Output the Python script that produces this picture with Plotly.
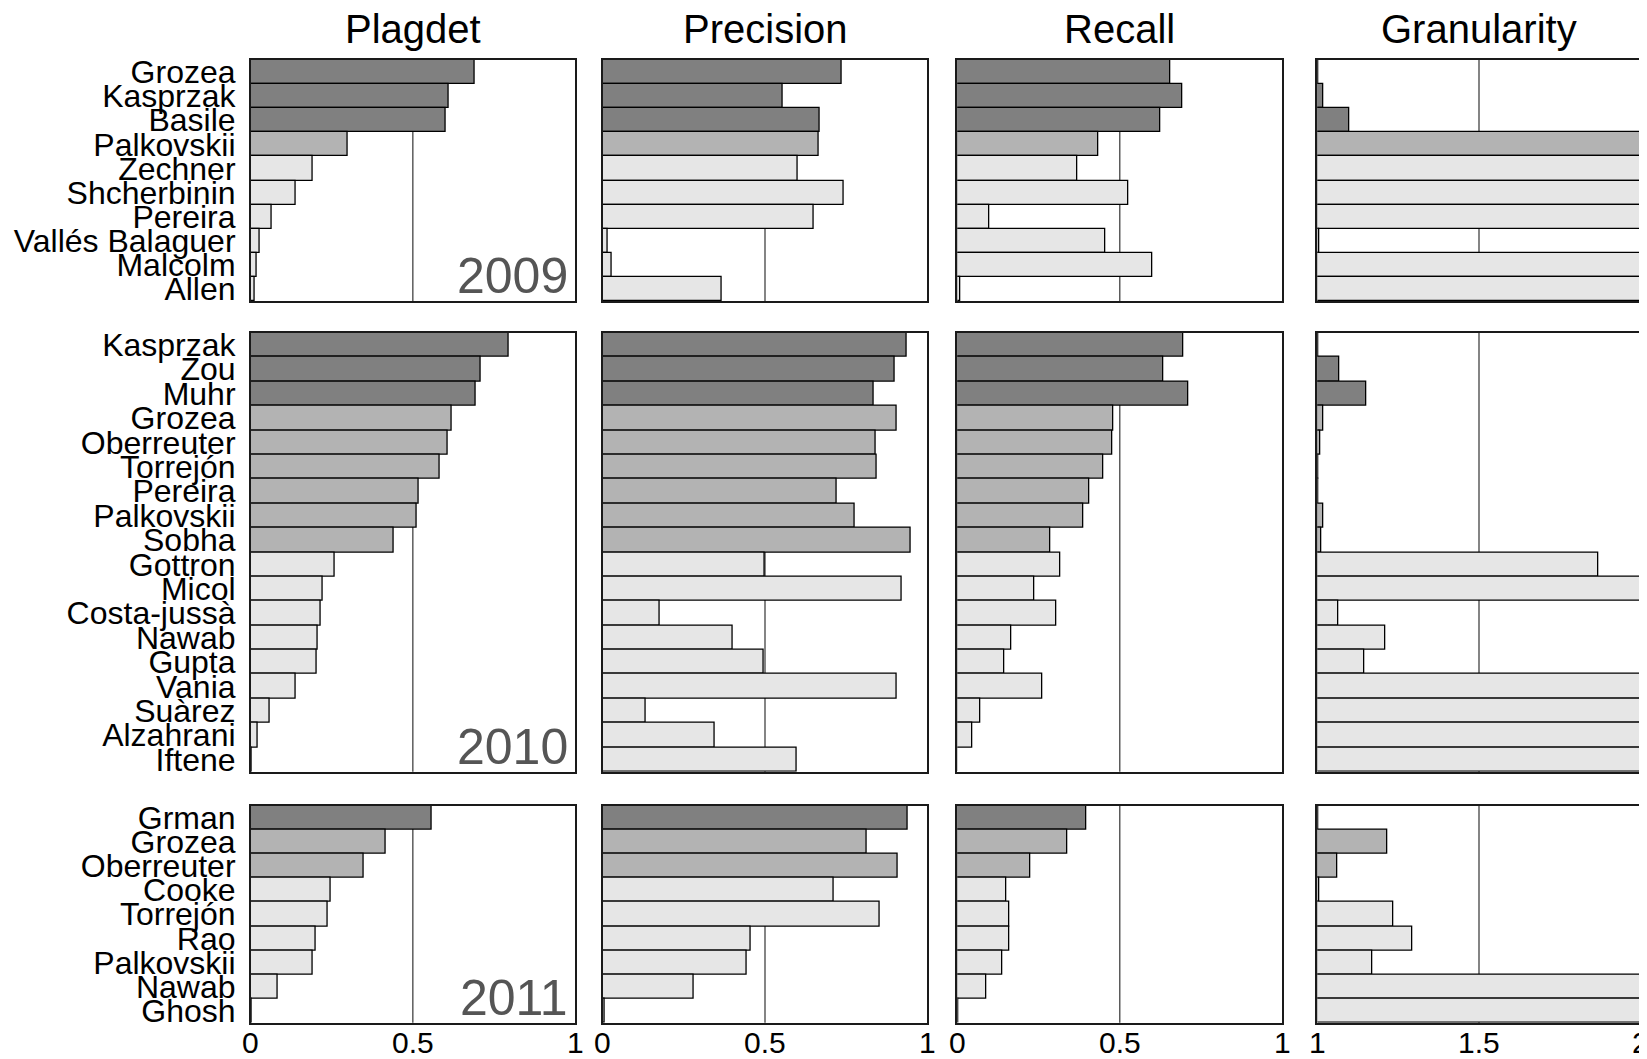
import plotly.graph_objects as go
from plotly.subplots import make_subplots

# ---------------- data ----------------
metrics = ["Plagdet", "Precision", "Recall", "Granularity"]
years = ["2009", "2010", "2011"]

names_2009 = ["Grozea", "Kasprzak", "Basile", "Palkovskii", "Zechner", "Shcherbinin",
              "Pereira", "Vallés Balaguer", "Malcolm", "Allen"]
tier_2009 = [1, 1, 1, 2, 3, 3, 3, 3, 3, 3]
plagdet_2009 = [0.69, 0.61, 0.60, 0.30, 0.19, 0.14, 0.065, 0.027, 0.019, 0.012]
precision_2009 = [0.736, 0.553, 0.669, 0.665, 0.602, 0.742, 0.65, 0.015, 0.028, 0.367]
recall_2009 = [0.654, 0.692, 0.624, 0.433, 0.368, 0.525, 0.098, 0.454, 0.601, 0.01]
granularity_2009 = [1.004, 1.02, 1.10, 2.0, 2.0, 2.0, 2.0, 1.005, 2.0, 2.0]

names_2010 = ["Kasprzak", "Zou", "Muhr", "Grozea", "Oberreuter", "Torrejón", "Pereira",
              "Palkovskii", "Sobha", "Gottron", "Micol", "Costa-jussà", "Nawab", "Gupta",
              "Vania", "Suàrez", "Alzahrani", "Iftene"]
tier_2010 = [1, 1, 1, 2, 2, 2, 2, 2, 2, 3, 3, 3, 3, 3, 3, 3, 3, 3]
plagdet_2010 = [0.796, 0.708, 0.695, 0.620, 0.607, 0.584, 0.519, 0.513, 0.44, 0.26, 0.222,
                0.215, 0.207, 0.203, 0.139, 0.06, 0.022, 0.002]
precision_2010 = [0.935, 0.90, 0.835, 0.905, 0.842, 0.845, 0.722, 0.777, 0.95, 0.50, 0.922,
                  0.176, 0.40, 0.495, 0.906, 0.133, 0.345, 0.597]
recall_2010 = [0.695, 0.633, 0.711, 0.48, 0.478, 0.449, 0.407, 0.387, 0.287, 0.318, 0.237,
               0.305, 0.166, 0.146, 0.263, 0.071, 0.045, 0.0]
granularity_2010 = [1.002, 1.067, 1.15, 1.018, 1.008, 1.004, 1.003, 1.02, 1.011, 1.87, 2.0,
                    1.065, 1.211, 1.146, 2.0, 2.0, 2.0, 2.0]

names_2011 = ["Grman", "Grozea", "Oberreuter", "Cooke", "Torrejón", "Rao", "Palkovskii",
              "Nawab", "Ghosh"]
tier_2011 = [1, 2, 2, 3, 3, 3, 3, 3, 3]
plagdet_2011 = [0.557, 0.416, 0.348, 0.248, 0.236, 0.201, 0.191, 0.082, 0.003]
precision_2011 = [0.940, 0.812, 0.910, 0.712, 0.852, 0.455, 0.444, 0.280, 0.007]
recall_2011 = [0.397, 0.337, 0.225, 0.150, 0.161, 0.161, 0.138, 0.088, 0.002]
granularity_2011 = [1.003, 1.217, 1.061, 1.007, 1.234, 1.295, 1.171, 2.0, 2.0]

x_ticks_score = [0, 0.5, 1]
x_ticklabels_score = ["0", "0.5", "1"]
x_ticks_gran = [1, 1.5, 2]
x_ticklabels_gran = ["1", "1.5", "2"]

# ---------------- layout helpers ----------------
# page coordinates of the target picture; the figure itself sits inside the
# default 8px body margin of the page
PW, PH = 1647, 1059
OX, OY = 8, 8
W, H = PW - OX, PH - OY
col_px = [(250.7, 575.0), (602.7, 927.3), (957.3, 1282.3), (1317.3, 1640.7)]
row_px = [(60.0, 301.0), (332.7, 771.7), (805.7, 1022.7)]
tier_colors = {1: "#808080", 2: "#b3b3b3", 3: "#e6e6e6"}
FONT = "Liberation Sans, Arial, Helvetica, sans-serif"


def fx(px):
    return min(1.0, max(0.0, (px - OX) / W))


def fy(py):
    return min(1.0, max(0.0, 1 - (py - OY) / H))


year_data = [
    (names_2009, tier_2009, [plagdet_2009, precision_2009, recall_2009, granularity_2009]),
    (names_2010, tier_2010, [plagdet_2010, precision_2010, recall_2010, granularity_2010]),
    (names_2011, tier_2011, [plagdet_2011, precision_2011, recall_2011, granularity_2011]),
]

fig = make_subplots(rows=3, cols=4)

shapes = []
annotations = []
for r, (names, tiers, series) in enumerate(year_data):
    colors = [tier_colors[t] for t in tiers]
    n = len(names)
    for c, vals in enumerate(series):
        k = r * 4 + c + 1
        gran = (c == 3)
        if gran:
            trace = go.Bar(y=names, x=[v - 1 for v in vals], base=[1] * n, orientation="h",
                           width=1.0, marker=dict(color=colors, line=dict(color="#000000", width=1.3)),
                           showlegend=False, hoverinfo="skip")
        else:
            trace = go.Bar(y=names, x=vals, orientation="h", width=1.0,
                           marker=dict(color=colors, line=dict(color="#000000", width=1.3)),
                           showlegend=False, hoverinfo="skip")
        fig.add_trace(trace, row=r + 1, col=c + 1)

        xs = "" if k == 1 else str(k)
        x0, x1 = col_px[c]
        y0, y1 = row_px[r]
        tv = x_ticks_gran if gran else x_ticks_score
        tt = x_ticklabels_gran if gran else x_ticklabels_score
        fig.layout["xaxis" + xs].update(
            domain=[fx(x0), fx(x1)],
            range=[1, 2] if gran else [0, 1],
            tickmode="array", tickvals=tv, ticktext=tt,
            showticklabels=False,
            ticks="", showgrid=False, zeroline=False, automargin=False,
            showline=True, mirror=True, linecolor="#1a1a1a", linewidth=1.5,
            fixedrange=True,
        )
        fig.layout["yaxis" + xs].update(
            domain=[fy(y1), fy(y0)],
            type="category", categoryorder="array", categoryarray=names,
            tickmode="array", tickvals=names, ticktext=names,
            range=[n - 0.5, -0.5],
            showticklabels=(c == 0),
            ticks="", showgrid=False, zeroline=False, automargin=False,
            showline=True, mirror=True, linecolor="#1a1a1a", linewidth=1.5,
            tickfont=dict(size=32, color="#000000", family=FONT),
            ticklabelstandoff=7,
            fixedrange=True,
        )
        ref = 1.5 if gran else 0.5
        shapes.append(dict(type="line", xref="x" + xs, yref="y" + xs + " domain",
                           x0=ref, x1=ref, y0=0, y1=1, layer="below",
                           line=dict(color="#333333", width=1.2)))
        # bottom tick labels (drawn at the axis tick values)
        if r == len(year_data) - 1:
            for v, t in zip(tv, tt):
                annotations.append(dict(text=t, xref="x" + xs, yref="paper", x=v, y=fy(1042),
                                        xanchor="center", yanchor="middle", showarrow=False,
                                        font=dict(size=30, color="#000000", family=FONT)))
    # year label in plagdet panel
    xs = "" if r == 0 else str(r * 4 + 1)
    annotations.append(dict(text=years[r], xref="x" + xs + " domain", yref="y" + xs + " domain",
                            x=0.985, y=0.0, xanchor="right", yanchor="bottom", yshift=-5,
                            showarrow=False,
                            font=dict(size=50, color="#555555", family=FONT)))

for c, m in enumerate(metrics):
    x0, x1 = col_px[c]
    annotations.append(dict(text=m, xref="paper", yref="paper", x=fx((x0 + x1) / 2),
                            y=fy(29), xanchor="center", yanchor="middle", showarrow=False,
                            font=dict(size=40, color="#000000", family=FONT)))

fig.update_layout(
    width=W, height=H,
    margin=dict(l=0, r=0, t=0, b=0, autoexpand=False),
    paper_bgcolor="#ffffff", plot_bgcolor="rgba(0,0,0,0)",
    bargap=0, showlegend=False,
    shapes=shapes, annotations=annotations,
    font=dict(family=FONT, color="#000000"),
)

fig.write_html("out.html", config={"displayModeBar": False})
